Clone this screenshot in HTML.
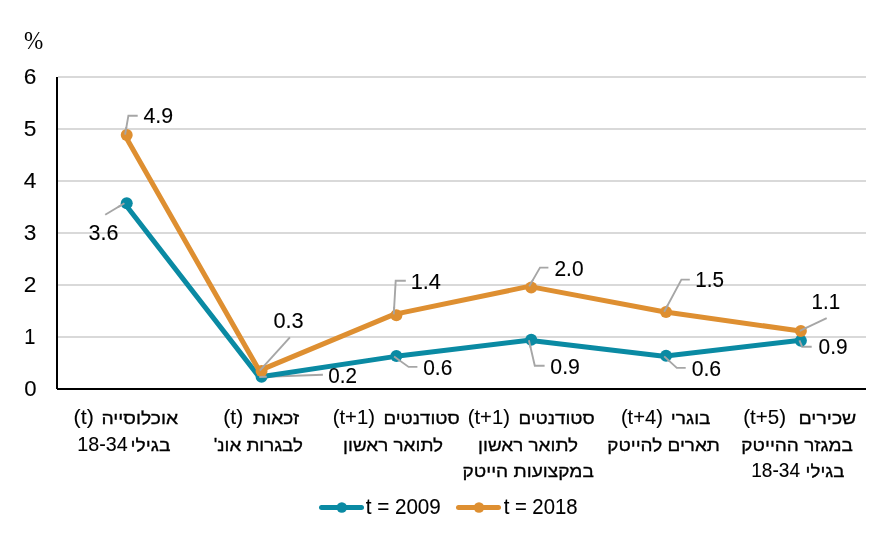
<!DOCTYPE html>
<html lang="he">
<head>
<meta charset="utf-8">
<title>Chart</title>
<style>
html,body{margin:0;padding:0;background:#fff;}
body{width:889px;height:535px;overflow:hidden;}
svg{display:block;}
text{white-space:pre;font-family:"Liberation Sans",Arial,sans-serif;fill:#000;stroke:#000;stroke-width:0.35px;}
text.n{font-size:22px;stroke-width:0.1px;}
text.l{font-size:21px;stroke-width:0.1px;}
text.h{font-size:17.5px;stroke-width:0.3px;}
text.p{font-size:25px;stroke-width:0px;font-family:"Liberation Serif","Times New Roman",serif;}
</style>
</head>
<body>
<svg width="889" height="535" viewBox="0 0 889 535">
<rect width="889" height="535" fill="#fff"/>
<g stroke="#d9d9d9" stroke-width="2">
<line x1="58" y1="337" x2="866" y2="337"/>
<line x1="58" y1="285" x2="866" y2="285"/>
<line x1="58" y1="233" x2="866" y2="233"/>
<line x1="58" y1="181" x2="866" y2="181"/>
<line x1="58" y1="129" x2="866" y2="129"/>
<line x1="58" y1="77" x2="866" y2="77"/>
</g>
<line x1="57" y1="77" x2="57" y2="389" stroke="#000" stroke-width="2"/>
<line x1="57" y1="389" x2="866" y2="389" stroke="#000" stroke-width="2"/>
<g stroke="#a6a6a6" stroke-width="1.9" fill="none">
<polyline points="125.1,134.6 128.4,115.7 137.7,115.7"/>
<polyline points="124.4,203.3 105.2,214.8"/>
<polyline points="259.8,370.6 289.9,337.3"/>
<polyline points="259.3,377 322.9,374.8"/>
<polyline points="393.75,314.4 395.7,280.8 405.8,280.8"/>
<polyline points="394.1,356.6 408.6,366.9 417.4,366.9"/>
<polyline points="529.2,286.4 540,267.6 548.4,267.6"/>
<polyline points="528.9,340.3 534.8,365.7 544.6,365.7"/>
<polyline points="664.2,311.8 681.4,279.6 689.8,279.6"/>
<polyline points="664.2,356.4 676.8,367.9 685.7,367.9"/>
<polyline points="799.8,330.8 826.7,318.1"/>
<polyline points="799.4,340.3 802.1,346.7 811.7,346.7"/>
</g>
<g fill="#0a8aa3">
<polyline fill="none" stroke="#0a8aa3" stroke-width="5" stroke-linejoin="round" points="124.42,203.3 259.25,377.0 394.08,356.6 528.92,340.3 663.75,356.2 798.58,340.4"/>
<circle cx="126.72" cy="203.20" r="6"/>
<circle cx="261.55" cy="376.80" r="6"/>
<circle cx="396.38" cy="355.90" r="6"/>
<circle cx="531.22" cy="339.80" r="6"/>
<circle cx="666.05" cy="355.80" r="6"/>
<circle cx="800.88" cy="340.80" r="6"/>
</g>
<g fill="#de8f31">
<polyline fill="none" stroke="#de8f31" stroke-width="5" stroke-linejoin="round" points="124.42,134.6 259.25,370.6 394.08,314.4 528.92,286.4 663.75,311.8 798.58,330.8"/>
<circle cx="126.72" cy="135.00" r="6"/>
<circle cx="261.55" cy="371.00" r="6"/>
<circle cx="396.38" cy="315.20" r="6"/>
<circle cx="531.22" cy="287.40" r="6"/>
<circle cx="666.05" cy="312.00" r="6"/>
<circle cx="800.88" cy="331.00" r="6"/>
</g>
<g stroke="#a6a6a6" stroke-width="1.9" fill="none">
<polyline points="125.1,134.6 126.39,127.21"/>
<polyline points="124.4,203.3 117.97,207.15"/>
<polyline points="259.8,370.6 264.83,365.04"/>
<polyline points="259.3,377 266.80,376.74"/>
<polyline points="393.75,314.4 394.18,306.91"/>
<polyline points="394.1,356.6 400.21,360.94"/>
<polyline points="529.2,286.4 532.94,279.90"/>
<polyline points="528.9,340.3 530.60,347.61"/>
<polyline points="664.2,311.8 667.73,305.18"/>
<polyline points="664.2,356.4 669.74,361.46"/>
<polyline points="799.8,330.8 806.58,327.60"/>
<polyline points="799.4,340.3 802.10,346.70"/>
</g>
<line x1="321.5" y1="507.5" x2="361.5" y2="507.5" stroke="#0a8aa3" stroke-width="5" stroke-linecap="round"/>
<circle cx="341.8" cy="507.5" r="5.3" fill="#0a8aa3"/>
<line x1="458.5" y1="507.5" x2="498.5" y2="507.5" stroke="#de8f31" stroke-width="5" stroke-linecap="round"/>
<circle cx="479" cy="507.5" r="5.3" fill="#de8f31"/>
<text id="pct" class="p" x="33.55" y="49.00" text-anchor="middle" textLength="19.27" lengthAdjust="spacingAndGlyphs">%</text>
<text id="y6" class="n" x="30.15" y="83.80" text-anchor="middle" textLength="12.64" lengthAdjust="spacingAndGlyphs">6</text>
<text id="y5" class="n" x="30.15" y="135.80" text-anchor="middle" textLength="12.64" lengthAdjust="spacingAndGlyphs">5</text>
<text id="y4" class="n" x="30.15" y="187.80" text-anchor="middle" textLength="12.64" lengthAdjust="spacingAndGlyphs">4</text>
<text id="y3" class="n" x="30.15" y="239.80" text-anchor="middle" textLength="12.64" lengthAdjust="spacingAndGlyphs">3</text>
<text id="y2" class="n" x="30.15" y="291.80" text-anchor="middle" textLength="12.64" lengthAdjust="spacingAndGlyphs">2</text>
<text id="y1" class="n" x="29.75" y="343.70" text-anchor="middle" textLength="11.15" lengthAdjust="spacingAndGlyphs">1</text>
<text id="y0" class="n" x="30.40" y="395.70" text-anchor="middle" textLength="12.33" lengthAdjust="spacingAndGlyphs">0</text>
<text id="d49" class="n" x="158.25" y="123.40" text-anchor="middle" textLength="29.67" lengthAdjust="spacingAndGlyphs">4.9</text>
<text id="d36" class="n" x="103.55" y="239.80" text-anchor="middle" textLength="29.92" lengthAdjust="spacingAndGlyphs">3.6</text>
<text id="d03" class="n" x="288.50" y="328.10" text-anchor="middle" textLength="30.24" lengthAdjust="spacingAndGlyphs">0.3</text>
<text id="d02" class="n" x="342.65" y="382.50" text-anchor="middle" textLength="28.73" lengthAdjust="spacingAndGlyphs">0.2</text>
<text id="d14" class="n" x="425.75" y="289.20" text-anchor="middle" textLength="30.22" lengthAdjust="spacingAndGlyphs">1.4</text>
<text id="d06a" class="n" x="437.75" y="374.60" text-anchor="middle" textLength="29.06" lengthAdjust="spacingAndGlyphs">0.6</text>
<text id="d20" class="n" x="569.00" y="275.50" text-anchor="middle" textLength="29.06" lengthAdjust="spacingAndGlyphs">2.0</text>
<text id="d09a" class="n" x="565.10" y="373.50" text-anchor="middle" textLength="29.57" lengthAdjust="spacingAndGlyphs">0.9</text>
<text id="d15" class="n" x="709.65" y="287.30" text-anchor="middle" textLength="28.68" lengthAdjust="spacingAndGlyphs">1.5</text>
<text id="d06b" class="n" x="706.40" y="376.30" text-anchor="middle" textLength="29.53" lengthAdjust="spacingAndGlyphs">0.6</text>
<text id="d11" class="n" x="825.85" y="309.00" text-anchor="middle" textLength="28.53" lengthAdjust="spacingAndGlyphs">1.1</text>
<text id="d09b" class="n" x="833.10" y="354.40" text-anchor="middle" textLength="28.99" lengthAdjust="spacingAndGlyphs">0.9</text>
<text id="lg1" class="n" x="403.25" y="513.60" text-anchor="middle" textLength="75.04" lengthAdjust="spacingAndGlyphs">t = 2009</text>
<text id="lg2" class="n" x="540.55" y="513.60" text-anchor="middle" textLength="73.83" lengthAdjust="spacingAndGlyphs">t = 2018</text>
<text id="c1a" class="l" x="83.70" y="423.50" text-anchor="middle" textLength="20.17" lengthAdjust="spacingAndGlyphs">(t)</text>
<text id="c1b" class="h" x="139.80" y="423.50" text-anchor="middle" direction="rtl" textLength="76.74" lengthAdjust="spacingAndGlyphs">אוכלוסייה</text>
<text id="c1c" class="l" x="102.50" y="450.50" text-anchor="middle" textLength="50.38" lengthAdjust="spacingAndGlyphs">18-34</text>
<text id="c1d" class="h" x="150.50" y="450.50" text-anchor="middle" direction="rtl" textLength="39.96" lengthAdjust="spacingAndGlyphs">בגילי</text>
<text id="c2a" class="l" x="233.25" y="423.50" text-anchor="middle" textLength="19.92" lengthAdjust="spacingAndGlyphs">(t)</text>
<text id="c2b" class="h" x="276.10" y="423.50" text-anchor="middle" direction="rtl" textLength="45.94" lengthAdjust="spacingAndGlyphs">זכאות</text>
<text id="c2c" class="h" x="258.30" y="450.50" text-anchor="middle" direction="rtl" textLength="89.12" lengthAdjust="spacingAndGlyphs">לבגרות אונ'</text>
<text id="c3a" class="l" x="353.80" y="423.50" text-anchor="middle" textLength="42.18" lengthAdjust="spacingAndGlyphs">(t+1)</text>
<text id="c3b" class="h" x="421.60" y="423.50" text-anchor="middle" direction="rtl" textLength="76.33" lengthAdjust="spacingAndGlyphs">סטודנטים</text>
<text id="c3c" class="h" x="393.10" y="450.50" text-anchor="middle" direction="rtl" textLength="99.96" lengthAdjust="spacingAndGlyphs">לתואר ראשון</text>
<text id="c4a" class="l" x="488.80" y="423.50" text-anchor="middle" textLength="42.18" lengthAdjust="spacingAndGlyphs">(t+1)</text>
<text id="c4b" class="h" x="556.60" y="423.50" text-anchor="middle" direction="rtl" textLength="76.33" lengthAdjust="spacingAndGlyphs">סטודנטים</text>
<text id="c4c" class="h" x="528.10" y="450.50" text-anchor="middle" direction="rtl" textLength="99.96" lengthAdjust="spacingAndGlyphs">לתואר ראשון</text>
<text id="c4d" class="h" x="528.15" y="476.50" text-anchor="middle" direction="rtl" textLength="131.38" lengthAdjust="spacingAndGlyphs">במקצועות הייטק</text>
<text id="c5a" class="l" x="641.90" y="423.50" text-anchor="middle" textLength="42.03" lengthAdjust="spacingAndGlyphs">(t+4)</text>
<text id="c5b" class="h" x="690.70" y="423.50" text-anchor="middle" direction="rtl" textLength="39.73" lengthAdjust="spacingAndGlyphs">בוגרי</text>
<text id="c5c" class="h" x="663.60" y="450.50" text-anchor="middle" direction="rtl" textLength="112.74" lengthAdjust="spacingAndGlyphs">תארים להייטק</text>
<text id="c6a" class="l" x="764.60" y="423.50" text-anchor="middle" textLength="42.77" lengthAdjust="spacingAndGlyphs">(t+5)</text>
<text id="c6b" class="h" x="827.45" y="423.50" text-anchor="middle" direction="rtl" textLength="57.82" lengthAdjust="spacingAndGlyphs">שכירים</text>
<text id="c6c" class="h" x="797.15" y="450.50" text-anchor="middle" direction="rtl" textLength="111.63" lengthAdjust="spacingAndGlyphs">במגזר ההייטק</text>
<text id="c6d" class="l" x="775.65" y="476.50" text-anchor="middle" textLength="48.84" lengthAdjust="spacingAndGlyphs">18-34</text>
<text id="c6e" class="h" x="825.00" y="476.50" text-anchor="middle" direction="rtl" textLength="38.74" lengthAdjust="spacingAndGlyphs">בגילי</text>
</svg>
</body>
</html>
